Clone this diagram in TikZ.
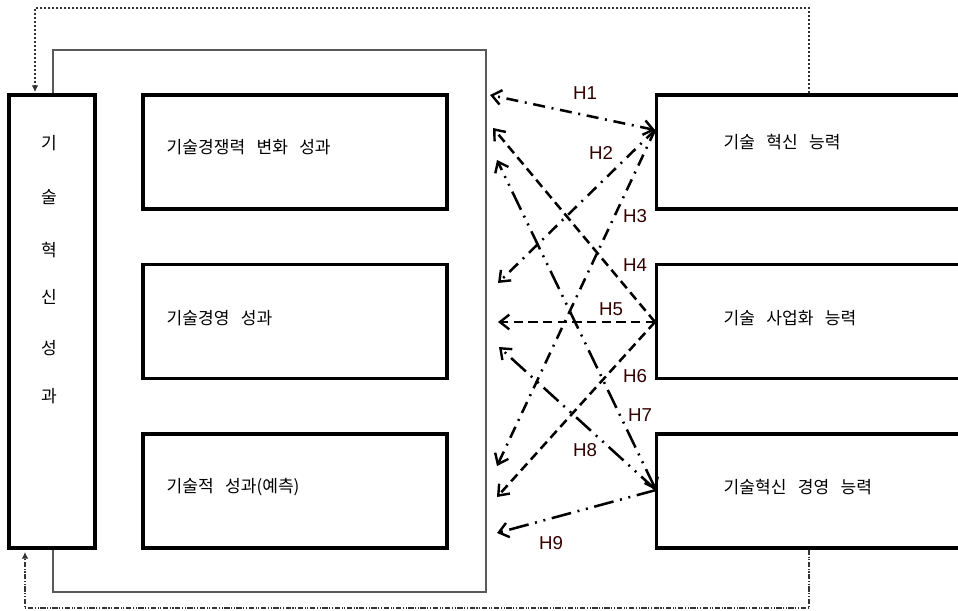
\documentclass[tikz,border=0pt]{standalone}
\usepackage{fontspec}
\setmainfont{Liberation Sans}
\newfontfamily\kr{Noto Sans CJK KR}
\usetikzlibrary{arrows.meta}
\newcommand{\ksp}{\hspace{8.5pt}}
\begin{document}
\begin{tikzpicture}[x=0.75pt,y=-0.75pt,
  box/.style={draw=black,line width=2.4pt,fill=white,inner sep=0pt,minimum width=#1},
  lbl/.style={font=\kr\fontsize{12.8}{15}\selectfont},
  hl/.style={font=\fontsize{14}{16}\selectfont,text=black!80!red},
  hyp/.style={line width=1.9pt,line cap=butt,-{Straight Barb[length=7pt,width=11pt,line width=1.8pt]}},
  dd/.style={dash pattern=on 9pt off 5pt on 1.5pt off 5pt},
  ds/.style={dash pattern=on 7pt off 4pt},
  ldd/.style={dash pattern=on 15pt off 5pt on 1.5pt off 5pt on 1.5pt off 5pt},
  fb/.style={line width=0.8pt,draw=black!80}
]
\useasboundingbox (0,0) rectangle (958,611);
\fill[white] (0,0) rectangle (958,611);

% frame
\draw[line width=1.1pt,draw=black!65] (53,50) rectangle (486,592);

% left box
\node[box=64.5pt, minimum height=339.75pt] (L) at (52,321.5) {};
\foreach \c/\yy in {기/143,술/197,혁/250,신/297,성/348,과/396}
  \node[lbl] at (49,\yy) {\c};

% inner boxes
\node[box=228pt, minimum height=85.5pt] (P1) at (295,152) {};
\node[box=228pt, minimum height=85.5pt] (P2) at (295,321.5) {};
\node[box=228pt, minimum height=85.5pt] (P3) at (295,491) {};
\node[lbl,anchor=west] at (162,147) {기술경쟁력\ksp 변화\ksp 성과};
\node[lbl,anchor=west] at (162,318) {기술경영\ksp 성과};
\node[lbl,anchor=west] at (162,487) {기술적\ksp 성과(예측)};

% right boxes
\node[box=231pt, minimum height=85.5pt] (C1) at (810.5,152) {};
\node[box=231pt, minimum height=85.5pt] (C2) at (810.5,321.5) {};
\node[box=231pt, minimum height=85.5pt] (C3) at (810.5,491) {};
\node[lbl,anchor=west] at (719,142) {기술\ksp 혁신\ksp 능력};
\node[lbl,anchor=west] at (719,318) {기술\ksp 사업화\ksp 능력};
\node[lbl,anchor=west] at (719,487) {기술혁신\ksp 경영\ksp 능력};

% coordinates
\coordinate (T) at (655,130);
\coordinate (M) at (655,322);
\coordinate (B) at (656,490);
\coordinate (e1) at (490,95);
\coordinate (e4) at (493,128);
\coordinate (e7) at (497,160);
\coordinate (e2) at (498,283);
\coordinate (e5) at (498,322);
\coordinate (e8) at (499,347);
\coordinate (e3) at (497,466);
\coordinate (e6) at (497,497);
\coordinate (e9) at (497,533);

% hypotheses
\draw[hyp,dd,{Straight Barb[length=7pt,width=11pt,line width=1.8pt]}-{Straight Barb[length=7pt,width=11pt,line width=1.8pt]}] (T) -- (e1);
\draw[hyp,dd] (T) -- (e2);
\draw[hyp,dd] (T) -- (e3);
\draw[hyp,ds] (M) -- (e4);
\draw[hyp,ds] (M) -- (e5);
\draw[hyp,ds] (M) -- (e6);
\draw[hyp,ldd,{Straight Barb[length=7pt,width=11pt,line width=1.8pt]}-{Straight Barb[length=7pt,width=11pt,line width=1.8pt]}] (B) -- (e7);
\draw[hyp,ldd] (B) -- (e8);
\draw[hyp,ldd] (B) -- (e9);

\node[hl] at (585,93) {H1};
\node[hl] at (601,153) {H2};
\node[hl] at (635,216) {H3};
\node[hl] at (635,265) {H4};
\node[hl] at (611,309) {H5};
\node[hl] at (635,376) {H6};
\node[hl] at (640,415) {H7};
\node[hl] at (585,450) {H8};
\node[hl] at (551,543) {H9};

% feedback lines
\coordinate (ft) at (35,8);
\coordinate (fr) at (809,8);
\draw[fb,dash pattern=on 2pt off 1pt,-{Latex[length=5pt,width=5pt]}] (C1.north -| 809,0) -- (fr) -- (ft) -- (35,92);
\coordinate (fb1) at (809,608);
\coordinate (fb2) at (25,608);
\draw[fb,dash pattern=on 4pt off 1.2pt on 0.8pt off 1.2pt on 0.8pt off 1.2pt,-{Latex[length=5pt,width=5pt]}] (C3.south -| 809,0) -- (fb1) -- (fb2) -- (25,552);
\end{tikzpicture}
\end{document}
